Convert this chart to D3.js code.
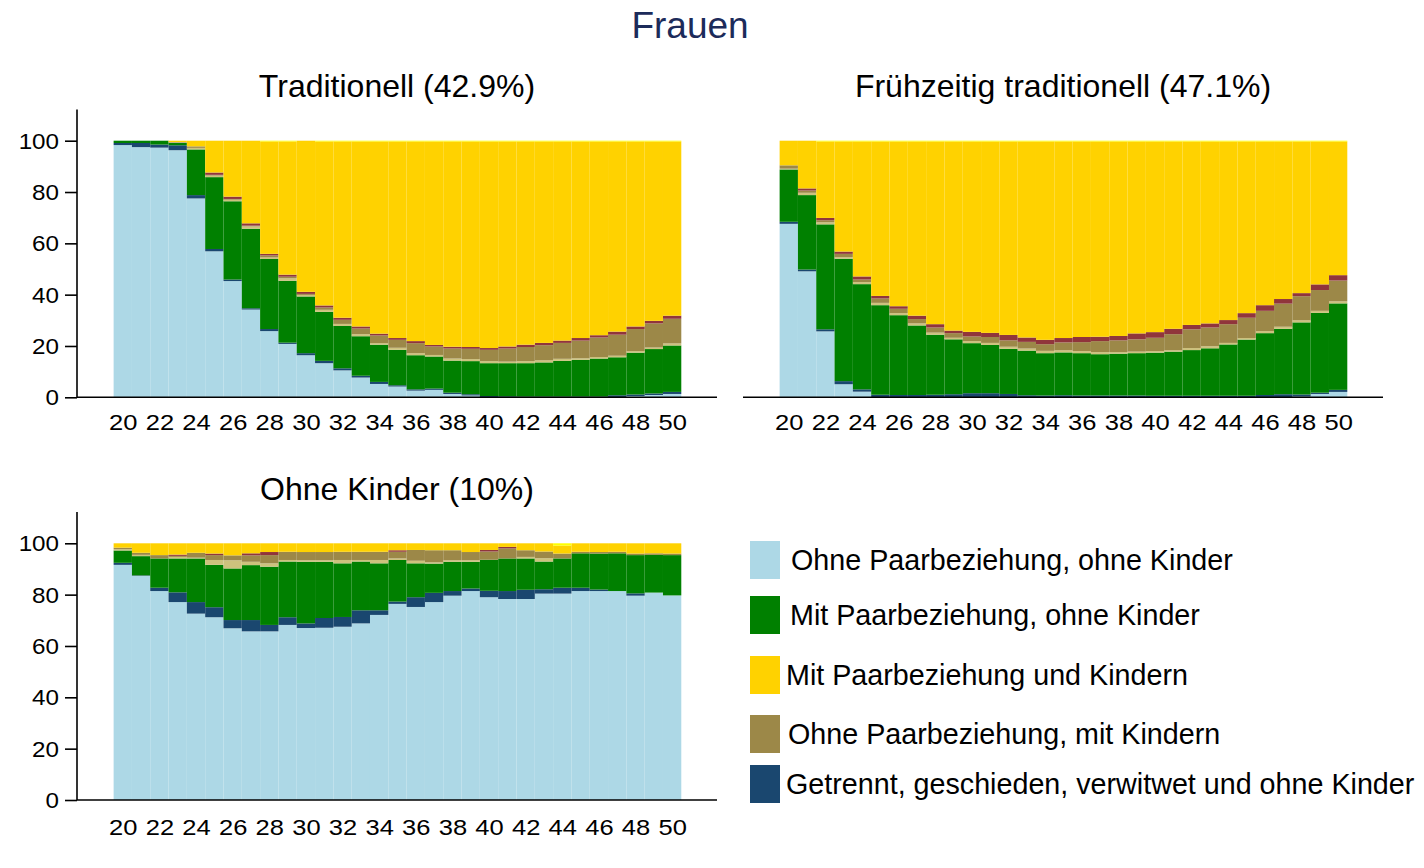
<!DOCTYPE html>
<html>
<head>
<meta charset="utf-8">
<script src="https://cdn.jsdelivr.net/npm/d3@7"></script>
<style>
  html, body { margin: 0; padding: 0; background: #fff; }
  svg { display: block; font-family: "Liberation Sans", Arial, Helvetica, sans-serif; }
</style>
</head>
<body>
<svg id="chart" width="1424" height="868"></svg>
<script>
// ---------- data ----------
const ages = d3.range(20, 51);
const xTicks = [20, 22, 24, 26, 28, 30, 32, 34, 36, 38, 40, 42, 44, 46, 48, 50];
const yTicks = [0, 20, 40, 60, 80, 100];

const seriesKeys = ["ohnePaarOhneKinder", "getrennt", "mitPaarOhneKinder", "khaki", "ohnePaarMitKindern", "rot", "mitPaarUndKindern", "hellgelb"];
const seriesColors = ["#add8e6", "#1a476f", "#008000", "#cdc27d", "#9c8848", "#90353b", "#ffd200", "#ffff00"];
const legendLabels = [
  "Ohne Paarbeziehung, ohne Kinder",
  "Mit Paarbeziehung, ohne Kinder",
  "Mit Paarbeziehung und Kindern",
  "Ohne Paarbeziehung, mit Kindern",
  "Getrennt, geschieden, verwitwet und ohne Kinder"
];
const legendColors = ["#add8e6", "#008000", "#ffd200", "#9c8848", "#1a476f"];

// Panel 1: Traditionell (42.9%)
const trad_ohnePaarOhneKinder = [98.3, 97.5, 97.3, 96.3, 77.5, 56.9, 45.3, 34.2, 25.8, 20.8, 16.4, 13.3, 10.5, 7.7, 5.2, 4.2, 2.6, 2.9, 1.3, 0.7, 0, 0, 0, 0, 0, 0, 0, 0, 0.5, 0.9, 1.3];
const trad_getrennt = [0.8, 1.6, 1.2, 1.9, 1.3, 0.9, 0.6, 0.5, 0.8, 0.5, 0.8, 0.9, 0.8, 0.7, 0.8, 0.5, 0.5, 0.5, 0.5, 0.5, 0.5, 0.4, 0.3, 0.3, 0.3, 0.3, 0.3, 0.8, 0.6, 0.6, 0.8];
const trad_mitPaarOhneKinder = [0.9, 0.9, 1.5, 0.9, 17.8, 28.0, 30.5, 31.0, 27.3, 24.1, 22.1, 19.1, 16.5, 15.4, 14.5, 13.8, 13.3, 12.5, 12.5, 12.9, 12.8, 12.9, 13.0, 13.3, 13.9, 14.3, 14.8, 14.8, 16.3, 17.3, 18.1];
const trad_khaki = [0, 0, 0, 0.2, 0.6, 0.6, 0.6, 0.9, 0.6, 1.0, 0.6, 0.8, 0.8, 0.8, 0.6, 0.8, 0.8, 0.6, 0.8, 0.8, 0.8, 0.6, 0.8, 0.8, 0.8, 0.6, 0.6, 0.6, 0.6, 0.6, 0.8];
const trad_ohnePaarMitKindern = [0, 0, 0, 0.2, 0.6, 0.3, 0.3, 0.3, 0.8, 0.6, 0.4, 0.9, 1.6, 2.2, 3.0, 3.1, 3.9, 3.3, 3.9, 4.0, 4.4, 5.1, 5.5, 5.9, 6.2, 6.9, 7.6, 8.2, 8.6, 9.4, 9.6];
const trad_rot = [0, 0, 0, 0, 0, 0.9, 0.9, 0.9, 0.6, 0.8, 0.8, 0.8, 0.8, 0.8, 0.7, 0.7, 0.8, 0.6, 0.7, 0.7, 0.7, 0.8, 0.9, 0.9, 0.9, 1.0, 0.9, 1.2, 1.0, 1.0, 1.2];
const trad_mitPaarUndKindern = [0, 0, 0, 0.5, 2.2, 12.4, 21.8, 32.2, 43.8, 51.9, 58.9, 63.9, 68.7, 72.1, 74.9, 76.6, 77.8, 79.3, 80.0, 80.1, 80.5, 79.9, 79.2, 78.5, 77.6, 76.6, 75.5, 74.1, 72.1, 69.9, 67.9];
const trad_hellgelb = [0, 0, 0, 0, 0, 0, 0, 0, 0.3, 0.3, 0, 0.3, 0.3, 0.3, 0.3, 0.3, 0.3, 0.3, 0.3, 0.3, 0.3, 0.3, 0.3, 0.3, 0.3, 0.3, 0.3, 0.3, 0.3, 0.3, 0.3];

// Panel 2: Frühzeitig traditionell (47.1%)
const frueh_ohnePaarOhneKinder = [67.6, 49.1, 25.7, 5.1, 2.2, 0, 0, 0, 0, 0, 0, 0, 0, 0, 0, 0, 0, 0, 0, 0, 0, 0, 0, 0, 0, 0, 0, 0, 0.3, 1.3, 2.1];
const frueh_getrennt = [0.8, 0.7, 0.8, 1.2, 0.9, 1.0, 0.9, 0.9, 1.0, 1.2, 1.6, 1.6, 1.3, 0.8, 0.7, 0.8, 0.7, 0.7, 0.7, 0.7, 0.6, 0.6, 0.6, 0.6, 0.6, 0.6, 0.9, 1.2, 0.8, 0.5, 0.8];
const frueh_mitPaarOhneKinder = [20.4, 29.0, 40.9, 47.7, 41.0, 34.9, 31.1, 27.1, 23.4, 21.4, 19.5, 18.8, 17.6, 17.4, 16.5, 16.7, 16.5, 16.1, 16.3, 16.5, 16.8, 17.2, 17.8, 18.5, 20.0, 21.9, 24.1, 25.5, 28.1, 31.1, 33.7];
const frueh_khaki = [0.3, 0.9, 0.8, 0.6, 0.8, 0.9, 0.8, 0.8, 0.8, 0.6, 0.8, 0.8, 0.8, 0.8, 0.9, 0.8, 0.8, 0.8, 0.6, 0.6, 0.6, 0.5, 0.8, 0.8, 0.6, 0.6, 0.8, 0.8, 0.8, 0.8, 0.8];
const frueh_ohnePaarMitKindern = [1.3, 0.9, 0.8, 1.3, 1.0, 1.7, 1.7, 1.7, 2.0, 1.8, 1.8, 2.3, 2.5, 2.6, 2.6, 3.1, 3.5, 4.3, 4.6, 4.8, 5.2, 6.3, 7.3, 7.3, 7.3, 7.9, 7.9, 9.0, 9.4, 8.1, 8.1];
const frueh_rot = [0, 0.8, 0.9, 0.9, 1.2, 1.0, 1.0, 1.3, 1.3, 1.0, 1.8, 1.6, 2.1, 1.7, 1.7, 1.7, 2.0, 1.7, 1.7, 2.3, 2.2, 2.1, 1.7, 1.6, 1.6, 1.8, 2.2, 1.8, 1.2, 2.2, 2.1];
const frueh_mitPaarUndKindern = [9.6, 18.6, 29.8, 42.9, 52.6, 60.2, 64.2, 67.9, 71.2, 73.7, 74.2, 74.6, 75.4, 76.4, 77.3, 76.6, 76.2, 76.1, 75.8, 74.8, 74.3, 73.0, 71.5, 70.9, 69.6, 66.9, 63.8, 61.4, 59.1, 55.7, 52.1];
const frueh_hellgelb = [0, 0, 0.3, 0.3, 0.3, 0.3, 0.3, 0.3, 0.3, 0.3, 0.3, 0.3, 0.3, 0.3, 0.3, 0.3, 0.3, 0.3, 0.3, 0.3, 0.3, 0.3, 0.3, 0.3, 0.3, 0.3, 0.3, 0.3, 0.3, 0.3, 0.3];

// Panel 3: Ohne Kinder (10%)
const ohne_ohnePaarOhneKinder = [91.6, 87.3, 81.4, 77.1, 72.6, 71.2, 66.9, 65.7, 65.7, 68.2, 67.0, 67.1, 67.5, 68.8, 72.1, 76.4, 75.2, 77.1, 79.6, 81.4, 79.0, 78.3, 78.3, 80.4, 80.4, 81.4, 81.4, 81.4, 79.6, 80.8, 79.7];
const ohne_getrennt = [0.8, 0.2, 1.3, 3.8, 4.5, 3.9, 3.2, 4.4, 2.5, 3.0, 1.8, 3.8, 3.8, 5.1, 1.8, 0.9, 3.8, 3.6, 1.8, 1.0, 2.5, 3.1, 3.6, 1.7, 2.3, 1.3, 0.6, 0, 0.9, 0, 0];
const ohne_mitPaarOhneKinder = [4.8, 7.5, 11.4, 13.2, 17.0, 16.5, 20.1, 21.4, 22.7, 21.7, 24.0, 21.9, 20.9, 19.0, 18.3, 16.2, 13.2, 11.4, 11.4, 10.4, 12.1, 12.7, 12.2, 10.8, 11.4, 13.4, 14.0, 14.7, 14.9, 14.7, 15.7];
const ohne_khaki = [0.5, 0.5, 0, 0.6, 0.3, 1.9, 3.2, 1.3, 1.3, 0.6, 0.6, 0.6, 1.3, 0.6, 1.3, 0.6, 1.0, 0.5, 0.6, 0.6, 0, 0, 0.6, 1.3, 0, 0, 0, 0, 0, 0, 0];
const ohne_ohnePaarMitKindern = [0.6, 0.8, 1.3, 0.4, 1.9, 1.9, 1.9, 2.5, 3.2, 3.2, 3.2, 3.2, 3.2, 3.2, 3.2, 2.6, 4.2, 4.7, 3.9, 3.2, 3.2, 3.9, 2.6, 2.6, 1.9, 0.6, 0.6, 0.6, 0.6, 0.6, 0.6];
const ohne_rot = [0, 0, 0, 0.5, 0, 0.6, 0, 0.8, 1.2, 0, 0, 0, 0, 0, 0, 0.6, 0, 0, 0, 0, 0.6, 0.6, 0, 0, 0, 0, 0, 0, 0, 0, 0];
const ohne_mitPaarUndKindern = [1.7, 3.7, 4.6, 4.4, 3.7, 4.0, 4.7, 3.9, 3.4, 3.3, 3.4, 3.4, 3.3, 3.3, 3.3, 2.7, 2.6, 2.7, 2.7, 3.4, 2.6, 1.4, 2.7, 3.2, 3.1, 3.3, 3.4, 3.3, 4.0, 3.9, 4.0];
const ohne_hellgelb = [0, 0, 0, 0, 0, 0, 0, 0, 0, 0, 0, 0, 0, 0, 0, 0, 0, 0, 0, 0, 0, 0, 0, 0, 0.9, 0, 0, 0, 0, 0, 0];

const panelTitles = ["Traditionell (42.9%)", "Frühzeitig traditionell (47.1%)", "Ohne Kinder (10%)"];
const mainTitle = "Frauen";

// ---------- build tables ----------
function table(arrs) {
  return ages.map((a, i) => {
    const row = { age: a };
    seriesKeys.forEach((k, j) => row[k] = arrs[j][i]);
    return row;
  });
}
const panels = [
  { title: panelTitles[0], x0: 77, x1: 717, yb: 397.3, yt: 140.7, yAxis: true, titleY: 97, labOff: 33,
    data: table([trad_ohnePaarOhneKinder, trad_getrennt, trad_mitPaarOhneKinder, trad_khaki, trad_ohnePaarMitKindern, trad_rot, trad_mitPaarUndKindern, trad_hellgelb]) },
  { title: panelTitles[1], x0: 743, x1: 1383, yb: 397.3, yt: 140.7, yAxis: false, titleY: 97, labOff: 33,
    data: table([frueh_ohnePaarOhneKinder, frueh_getrennt, frueh_mitPaarOhneKinder, frueh_khaki, frueh_ohnePaarMitKindern, frueh_rot, frueh_mitPaarUndKindern, frueh_hellgelb]) },
  { title: panelTitles[2], x0: 77, x1: 717, yb: 800, yt: 543.3, yAxis: true, titleY: 500, labOff: 35,
    data: table([ohne_ohnePaarOhneKinder, ohne_getrennt, ohne_mitPaarOhneKinder, ohne_khaki, ohne_ohnePaarMitKindern, ohne_rot, ohne_mitPaarUndKindern, ohne_hellgelb]) }
];

const svg = d3.select("#chart");
const color = d3.scaleOrdinal().domain(seriesKeys).range(seriesColors);

svg.append("text")
  .attr("x", 690).attr("y", 38)
  .attr("text-anchor", "middle")
  .attr("font-size", 37)
  .attr("fill", "#1c2b5a")
  .text(mainTitle);

const xLabelScale = 1.16, yLabelScale = 1.1;

panels.forEach(p => {
  const x = d3.scaleLinear().domain([17.5, 52.45]).range([p.x0, p.x1]);
  const y = d3.scaleLinear().domain([0, 100]).range([p.yb, p.yt]);
  const g = svg.append("g");
  const stacked = d3.stack().keys(seriesKeys)(p.data);

  g.selectAll("g.layer").data(stacked).join("g")
    .attr("class", "layer")
    .attr("fill", d => color(d.key))
    .selectAll("rect").data(d => d).join("rect")
      .attr("x", d => x(d.data.age - 0.5))
      .attr("width", d => x(d.data.age + 0.5) - x(d.data.age - 0.5))
      .attr("y", d => y(d[1]))
      .attr("height", d => Math.max(0, y(d[0]) - y(d[1])));

  // x axis
  const xa = g.append("g").attr("transform", `translate(0,${p.yb})`)
    .call(d3.axisBottom(x).tickValues(xTicks).tickSize(0).tickFormat(""));
  xa.select(".domain").attr("stroke", "#000").attr("stroke-width", 1.6).attr("d", `M${p.x0},0H${p.x1}`);
  g.selectAll("text.xl").data(xTicks).join("text")
    .attr("class", "xl")
    .attr("transform", d => `translate(${x(d) + 0.5},${p.yb + p.labOff}) scale(${xLabelScale},1)`)
    .attr("text-anchor", "middle")
    .attr("font-size", 22)
    .attr("fill", "#000")
    .text(d => d);

  if (p.yAxis) {
    const ya = g.append("g").attr("transform", `translate(${p.x0},0)`)
      .call(d3.axisLeft(y).tickValues(yTicks).tickSize(12).tickFormat(""));
    ya.select(".domain").attr("stroke", "#000").attr("stroke-width", 1.6)
      .attr("d", `M0,${p.yb}V${y(112.2)}`);
    ya.selectAll(".tick line").attr("stroke", "#000").attr("stroke-width", 1.6);
    g.selectAll("text.yl").data(yTicks).join("text")
      .attr("class", "yl")
      .attr("transform", d => `translate(${p.x0 - 18},${y(d) + 8}) scale(${yLabelScale},1)`)
      .attr("text-anchor", "end")
      .attr("font-size", 22)
      .attr("fill", "#000")
      .text(d => d);
  }

  svg.append("text")
    .attr("x", (p.x0 + p.x1) / 2).attr("y", p.titleY)
    .attr("text-anchor", "middle")
    .attr("font-size", 32)
    .attr("fill", "#000")
    .text(p.title);
});

// legend
const legendY = [541, 596, 656, 715, 765];
const legendTextX = [791, 790, 786, 788, 786];
const lg = svg.append("g");
legendLabels.forEach((lab, i) => {
  lg.append("rect").attr("x", 750).attr("y", legendY[i]).attr("width", 30).attr("height", 38).attr("fill", legendColors[i]);
  lg.append("text").attr("x", legendTextX[i]).attr("y", legendY[i] + 29)
    .attr("font-size", 28.7).attr("fill", "#000").text(lab);
});
</script>
</body>
</html>
